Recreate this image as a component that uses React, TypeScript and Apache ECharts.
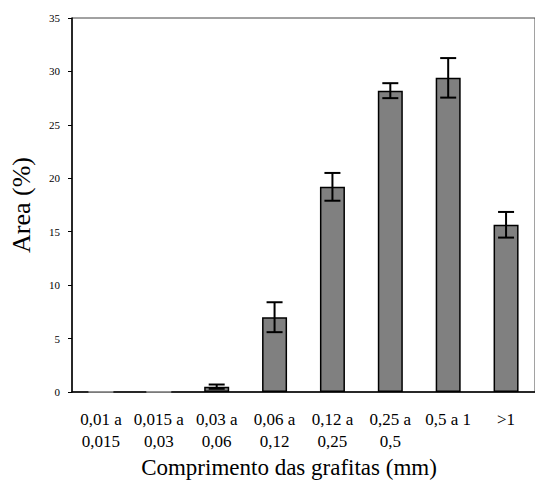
import React, { useEffect, useRef } from "react";
import * as echarts from "echarts";

const categories = [
  "0,01 a\n0,015",
  "0,015 a\n0,03",
  "0,03 a\n0,06",
  "0,06 a\n0,12",
  "0,12 a\n0,25",
  "0,25 a\n0,5",
  "0,5 a 1",
  ">1",
];
const areaMean = [0.02, 0.02, 0.5, 7.0, 19.2, 28.2, 29.4, 15.65];
const areaErr = [0, 0, 0.2, 1.4, 1.3, 0.7, 1.85, 1.2];
const yTicks = { min: 0, max: 35, interval: 5 };
const yName = "Area (%)";
const xName = "Comprimento das grafitas (mm)";

const FONT = "'Liberation Serif', 'Times New Roman', serif";

export default function App() {
  const ref = useRef<HTMLDivElement>(null);
  useEffect(() => {
    if (!ref.current) return;
    const chart = echarts.init(ref.current, undefined, { renderer: "svg" });
    const errData = areaMean.map((v, i) => [i, v - areaErr[i], v + areaErr[i], areaErr[i]]);
    chart.setOption({
      animation: false,
      backgroundColor: "#ffffff",
      grid: {
        left: 61,
        top: 18,
        width: 481,
        height: 374,
        show: true,
        borderColor: "#444",
        borderWidth: 1,
        backgroundColor: "transparent",
      },
      xAxis: {
        type: "category",
        data: categories,
        axisLine: { lineStyle: { color: "#000", width: 1.5 } },
        axisTick: { show: false },
        axisLabel: {
          interval: 0,
          color: "#000",
          fontFamily: FONT,
          fontSize: 17,
          lineHeight: 22,
          margin: 16,
        },
      },
      yAxis: {
        type: "value",
        min: yTicks.min,
        max: yTicks.max,
        interval: yTicks.interval,
        name: yName,
        nameLocation: "middle",
        nameGap: 38,
        nameTextStyle: { fontFamily: FONT, fontSize: 26, color: "#000" },
        axisLine: { show: true, lineStyle: { color: "#000", width: 1.5 } },
        axisTick: { show: true, inside: false, length: 4, lineStyle: { color: "#000" } },
        axisLabel: { color: "#000", fontFamily: FONT, fontSize: 11, margin: 12 },
        splitLine: { show: false },
      },
      graphic: [
        {
          type: "text",
          x: 289,
          y: 467,
          style: {
            text: xName,
            fontFamily: FONT,
            fontSize: 23,
            fill: "#000",
            textAlign: "center",
            textVerticalAlign: "middle",
          },
        },
      ],
      series: [
        {
          type: "bar",
          barWidth: 25,
          data: areaMean.map((v) => ({
            value: v,
            itemStyle: v < 0.1 ? { borderColor: "#aaa", borderWidth: 1 } : undefined,
          })),
          itemStyle: { color: "#808080", borderColor: "#000", borderWidth: 1.5 },
        },
        {
          type: "custom",
          data: errData,
          z: 10,
          renderItem: (params: any, api: any) => {
            if (api.value(3) <= 0) return { type: "group", children: [] };
            const x = api.value(0);
            const lo = api.coord([x, api.value(1)]);
            const hi = api.coord([x, api.value(2)]);
            const hw = 8;
            const style = { stroke: "#000", lineWidth: 2 };
            return {
              type: "group",
              children: [
                { type: "line", shape: { x1: hi[0], y1: hi[1], x2: lo[0], y2: lo[1] }, style },
                { type: "line", shape: { x1: hi[0] - hw, y1: hi[1], x2: hi[0] + hw, y2: hi[1] }, style },
                { type: "line", shape: { x1: lo[0] - hw, y1: lo[1], x2: lo[0] + hw, y2: lo[1] }, style },
              ],
            };
          },
        },
      ],
    });
    return () => chart.dispose();
  }, []);
  return (
    <div
      ref={ref}
      style={{ position: "fixed", left: 0, top: 0, width: 535, height: 486, background: "#fff" }}
    />
  );
}
